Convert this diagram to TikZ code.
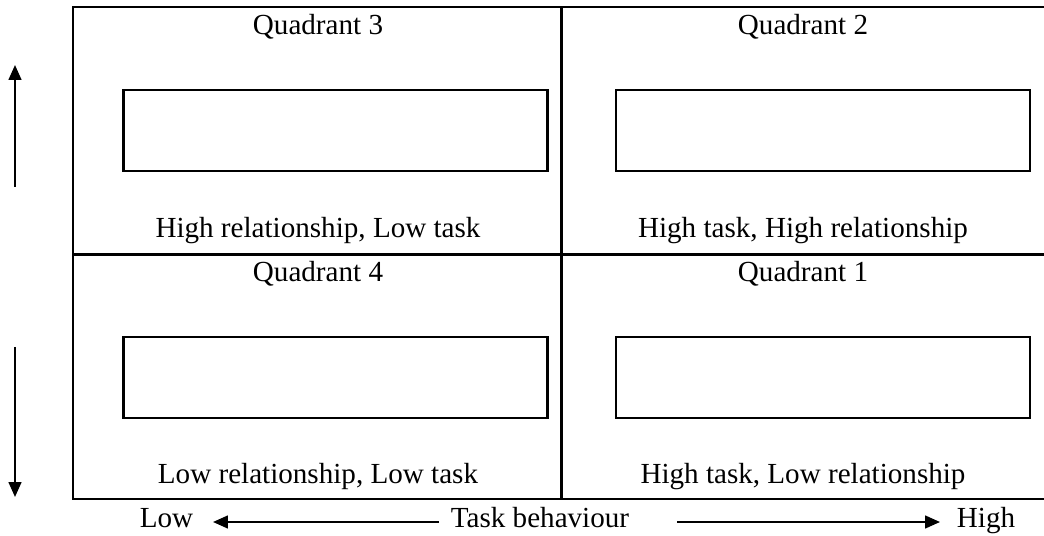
\documentclass[tikz,border=0pt]{standalone}
\usepackage{fontspec}
\setmainfont{Liberation Serif}
\usetikzlibrary{arrows.meta}
\begin{document}
\begin{tikzpicture}
    [%%%%%%%%%%%%%%%%%%%%%%%%%%%%%%
        x=0.025cm, y=-0.025cm,
        frame/.style={line width=2pt},
        box/.style={rectangle,draw=black,line width=1.8pt,minimum height=2.025cm,inner sep=0pt},
        lbl/.style={font=\fontsize{20.7}{25}\selectfont,anchor=base,inner sep=0pt},
        axis/.style={line width=1.4pt,-{Triangle[length=10.5pt,width=9pt]}},
    ]%%%%%%%%%%%%%%%%%%%%%%%%%%%%%%
    \useasboundingbox (0,0) rectangle (1044,536);
    \draw[frame] (1044,7) -- (73,7) -- (73,499) -- (1044,499);
    \draw[frame] (73,254.7) -- (1044,254.7);
    \draw[frame] (561.7,7) -- (561.7,499);

    \node[lbl] (q3) at (318,35) {Quadrant 3};
    \node[box, minimum width=10.6cm] (b3) at (335.5,130.5) {};
    \node[lbl] (d3) at (318,238) {High relationship, Low task};

    \node[lbl] (q2) at (803,35) {Quadrant 2};
    \node[box, minimum width=10.35cm] (b2) at (823,130.5) {};
    \node[lbl] (d2) at (803,238) {High task, High relationship};

    \node[lbl] (q4) at (318,282) {Quadrant 4};
    \node[box, minimum width=10.6cm] (b4) at (335.5,377.5) {};
    \node[lbl] (d4) at (318,483) {Low relationship, Low task};

    \node[lbl] (q1) at (803,282) {Quadrant 1};
    \node[box, minimum width=10.35cm] (b1) at (823,377.5) {};
    \node[lbl] (d1) at (803,483) {High task, Low relationship};

    \node[lbl] (low) at (166.5,527) {Low};
    \node[lbl] (task) at (540,527) {Task behaviour};
    \node[lbl] (high) at (986,527) {High};

    \coordinate (lt) at (439,522);
    \coordinate (lh) at (213,522);
    \coordinate (rt) at (677,522);
    \coordinate (rh) at (940,522);
    \coordinate (ut) at (15,187);
    \coordinate (uh) at (15,65);
    \coordinate (dt) at (15,347);
    \coordinate (dh) at (15,497);

    \draw[axis] (lt) -- (lh);
    \draw[axis] (rt) -- (rh);
    \draw[axis] (ut) -- (uh);
    \draw[axis] (dt) -- (dh);

\end{tikzpicture}
\end{document}
